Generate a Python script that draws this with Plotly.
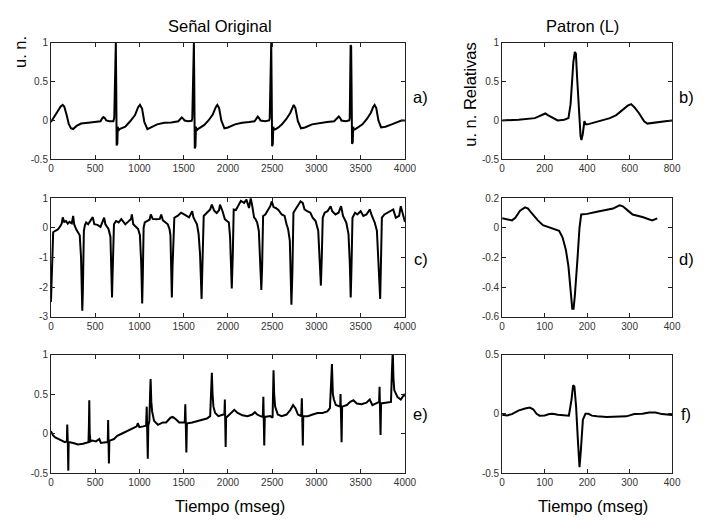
import plotly.graph_objects as go

# ---------------------------------------------------------------
# Señales originales (tiempo en mseg, amplitud en unidades normalizadas)
# ---------------------------------------------------------------
senal_a = [
    (0, -0.02), (30, 0.03), (70, 0.10), (110, 0.18), (133, 0.20), (150, 0.18), (175, 0.08),
    (200, -0.04), (225, -0.10), (250, -0.11), (290, -0.07), (340, -0.04), (420, -0.03),
    (500, -0.02), (560, -0.01), (580, 0.03), (594, 0.045), (610, 0.03), (625, 0.0),
    (660, -0.01), (705, -0.01),
    (715, 0.03), (722, 0.5), (727, 1.0), (733, 1.0), (738, 0.4), (742, -0.32), (746, -0.1),
    (750, -0.3), (755, -0.08), (762, -0.13), (775, -0.11), (800, -0.10), (840, -0.08),
    (895, -0.01), (950, 0.07), (985, 0.17), (1006, 0.20), (1030, 0.15), (1055, -0.02),
    (1090, -0.11), (1130, -0.09), (1200, -0.05), (1280, -0.03), (1360, -0.025), (1440, -0.01),
    (1465, 0.03), (1478, 0.04), (1495, 0.02), (1510, 0.0), (1550, -0.01), (1590, -0.005),
    (1597, 0.03), (1604, 0.5), (1609, 1.0), (1615, 1.0), (1620, 0.4), (1625, -0.36), (1629, -0.1),
    (1633, -0.33), (1638, -0.08), (1645, -0.13), (1660, -0.11), (1690, -0.09), (1730, -0.06),
    (1780, 0.0), (1830, 0.08), (1862, 0.17), (1880, 0.20), (1900, 0.16), (1925, 0.0),
    (1960, -0.10), (2000, -0.09), (2080, -0.05), (2160, -0.03), (2240, -0.02), (2300, -0.01),
    (2325, 0.03), (2337, 0.05), (2352, 0.03), (2368, 0.0), (2420, -0.01), (2465, 0.0),
    (2472, 0.03), (2478, 0.5), (2483, 1.0), (2489, 1.0), (2494, 0.4), (2499, -0.33), (2503, -0.1),
    (2507, -0.3), (2512, -0.08), (2520, -0.12), (2540, -0.11), (2570, -0.09), (2610, -0.05),
    (2660, 0.02), (2705, 0.10), (2728, 0.17), (2743, 0.20), (2762, 0.16), (2790, -0.01),
    (2825, -0.10), (2870, -0.09), (2950, -0.05), (3040, -0.03), (3120, -0.02), (3200, -0.01),
    (3235, 0.03), (3252, 0.05), (3268, 0.03), (3282, 0.0), (3330, -0.01), (3370, 0.0),
    (3376, 0.03), (3382, 0.5), (3386, 0.97), (3392, 0.95), (3397, 0.4), (3402, -0.30), (3406, -0.1),
    (3410, -0.28), (3415, -0.08), (3422, -0.12), (3440, -0.11), (3470, -0.09), (3520, -0.05),
    (3570, 0.02), (3615, 0.10), (3640, 0.17), (3657, 0.20), (3676, 0.16), (3700, 0.0),
    (3730, -0.09), (3780, -0.08), (3850, -0.05), (3920, -0.02), (3960, 0.0), (4000, 0.0),
]

senal_c = [
    (0, -2.5), (8, -1.6), (15, -0.5), (25, -0.15), (50, -0.1), (80, -0.05), (105, 0.05),
    (122, 0.15), (133, 0.35), (150, 0.2), (170, 0.23), (190, 0.14), (210, 0.2), (235, 0.15),
    (251, 0.4), (262, 0.12), (285, -0.05), (306, -0.15), (325, -0.25), (340, -1.0), (348, -2.0),
    (354, -2.8), (360, -2.2), (366, -1.0), (372, -0.1), (385, 0.1), (398, 0.18), (420, 0.12),
    (445, 0.23), (472, 0.36), (490, 0.12), (525, 0.1), (560, 0.03), (590, 0.25), (601, 0.34),
    (615, 0.12), (650, -0.04), (672, -0.3), (682, -1.2), (690, -2.35), (696, -1.6), (705, -0.2),
    (712, 0.12), (735, 0.23), (765, 0.18), (795, 0.29), (840, 0.12), (870, 0.2), (905, 0.3),
    (914, 0.45), (930, 0.12), (985, -0.04), (1005, -0.25), (1020, -1.2), (1031, -2.55),
    (1038, -1.6), (1047, 0.0), (1060, 0.18), (1085, 0.23), (1115, 0.28), (1128, 0.45),
    (1150, 0.3), (1190, 0.29), (1230, 0.3), (1246, 0.45), (1265, 0.25), (1320, 0.12),
    (1340, -0.05), (1350, -0.25), (1358, -1.2), (1366, -2.35), (1374, -1.3), (1385, 0.1),
    (1394, 0.34), (1430, 0.4), (1470, 0.51), (1505, 0.45), (1560, 0.35), (1596, 0.56),
    (1610, 0.35), (1650, 0.12), (1668, -0.2), (1685, -0.9), (1702, -2.4), (1712, -1.2),
    (1720, 0.0), (1726, 0.4), (1762, 0.51), (1799, 0.62), (1818, 0.78), (1844, 0.58),
    (1873, 0.5), (1900, 0.6), (1910, 0.78), (1939, 0.56), (1965, 0.29), (1990, 0.22),
    (2010, 0.18), (2024, -0.32), (2035, -1.64), (2043, -2.05), (2054, -0.98), (2065, 0.62),
    (2090, 0.6), (2120, 0.78), (2146, 0.91), (2183, 0.84), (2209, 0.95), (2238, 0.67),
    (2257, 1.0), (2275, 0.73), (2295, 0.35), (2312, 0.29), (2330, 0.18), (2349, -0.1),
    (2363, -0.98), (2377, -2.1), (2386, -1.31), (2397, 0.4), (2422, 0.45), (2452, 0.62),
    (2478, 0.73), (2496, 0.89), (2515, 0.7), (2540, 0.67), (2570, 0.6), (2607, 0.45),
    (2640, 0.4), (2662, 0.12), (2680, -0.05), (2699, -0.43), (2710, -1.53), (2717, -2.6),
    (2728, -1.5), (2740, 0.51), (2762, 0.62), (2791, 0.78), (2820, 0.89), (2845, 0.84),
    (2865, 0.62), (2895, 0.56), (2931, 0.51), (2957, 0.34), (2990, 0.23), (3020, -0.1),
    (3034, -0.98), (3050, -1.95), (3060, -1.0), (3071, 0.34), (3093, 0.51), (3125, 0.56),
    (3160, 0.73), (3178, 0.56), (3215, 0.45), (3250, 0.51), (3278, 0.73), (3300, 0.4),
    (3337, 0.18), (3362, -0.21), (3377, -1.2), (3387, -2.35), (3396, -1.3), (3407, 0.34),
    (3436, 0.51), (3462, 0.45), (3499, 0.56), (3530, 0.4), (3565, 0.45), (3602, 0.62),
    (3627, 0.4), (3658, 0.18), (3683, -0.1), (3698, -0.98), (3720, -2.4), (3728, -1.3),
    (3739, 0.34), (3768, 0.45), (3805, 0.51), (3840, 0.56), (3868, 0.62), (3897, 0.34),
    (3934, 0.4), (3953, 0.73), (3978, 0.45), (4000, 0.2),
]

senal_e = [
    (0, 0.03), (22, -0.02), (48, -0.05), (85, -0.07), (122, -0.09), (158, -0.11), (180, -0.1),
    (184, 0.115), (190, -0.1), (196, -0.47), (200, -0.11), (214, -0.11), (251, -0.12),
    (306, -0.14), (361, -0.13), (398, -0.12), (424, -0.11), (429, 0.1), (433, 0.42), (438, 0.0),
    (446, -0.1), (465, -0.09), (509, -0.1), (546, -0.07), (564, -0.12), (620, -0.11),
    (642, -0.11), (646, 0.17), (650, -0.1), (655, -0.38), (660, -0.09), (667, -0.09),
    (712, -0.07), (749, -0.03), (804, 0.0), (859, 0.03), (914, 0.07), (970, 0.09),
    (981, 0.13), (999, 0.08), (1043, 0.09), (1075, 0.1), (1082, 0.34), (1088, 0.05),
    (1094, -0.32), (1100, 0.1), (1112, 0.16), (1120, 0.5), (1126, 0.69), (1134, 0.4),
    (1143, 0.28), (1165, 0.16), (1209, 0.11), (1265, 0.14), (1301, 0.14), (1350, 0.2),
    (1375, 0.21), (1412, 0.18), (1449, 0.14), (1512, 0.14), (1518, 0.37), (1524, 0.1),
    (1530, -0.24), (1536, 0.13), (1545, 0.13), (1596, 0.14), (1652, 0.16), (1707, 0.18),
    (1762, 0.19), (1799, 0.22), (1810, 0.45), (1818, 0.77), (1826, 0.5), (1836, 0.34),
    (1855, 0.26), (1892, 0.22), (1947, 0.24), (1960, 0.24), (1965, 0.43), (1970, 0.1),
    (1974, -0.17), (1979, 0.2), (1998, 0.22), (2035, 0.26), (2072, 0.3), (2109, 0.26),
    (2164, 0.23), (2220, 0.22), (2275, 0.24), (2304, 0.27), (2330, 0.24), (2367, 0.22),
    (2394, 0.21), (2400, 0.465), (2405, 0.1), (2410, -0.15), (2416, 0.21), (2478, 0.22),
    (2504, 0.2), (2510, 0.5), (2515, 0.8), (2522, 0.5), (2533, 0.34), (2563, 0.24),
    (2607, 0.22), (2662, 0.24), (2706, 0.3), (2736, 0.36), (2762, 0.32), (2791, 0.24),
    (2828, 0.22), (2835, 0.445), (2840, 0.1), (2846, -0.15), (2851, 0.22), (2902, 0.22),
    (2957, 0.24), (3012, 0.26), (3068, 0.26), (3123, 0.28), (3152, 0.32), (3167, 0.59),
    (3175, 0.88), (3185, 0.5), (3197, 0.43), (3219, 0.36), (3252, 0.34), (3268, 0.34),
    (3272, 0.5), (3278, 0.1), (3284, -0.11), (3290, 0.34), (3344, 0.36), (3381, 0.4),
    (3418, 0.42), (3455, 0.38), (3510, 0.37), (3565, 0.39), (3602, 0.43), (3632, 0.36),
    (3676, 0.38), (3708, 0.4), (3713, 0.59), (3718, 0.2), (3724, -0.02), (3730, 0.38),
    (3787, 0.39), (3842, 0.4), (3853, 0.79), (3862, 1.05), (3870, 0.7), (3879, 0.55),
    (3916, 0.46), (3953, 0.43), (3990, 0.49), (4000, 0.47),
]

# ---------------------------------------------------------------
# Patrones (L) extraídos de cada señal
# ---------------------------------------------------------------
patron_b = [
    (0, 0.0), (77, 0.01), (154, 0.03), (184, 0.07), (203, 0.09), (215, 0.07), (238, 0.03),
    (261, 0.0), (292, 0.01), (312, 0.03), (322, 0.21), (335, 0.75), (342, 0.88), (347, 0.86),
    (353, 0.54), (361, 0.09), (369, -0.2), (373, -0.25), (379, -0.18), (387, -0.01),
    (393, -0.05), (402, -0.05), (415, -0.04), (461, -0.01), (507, 0.03), (537, 0.07),
    (568, 0.14), (591, 0.19), (607, 0.21), (622, 0.17), (645, 0.09), (668, -0.01),
    (683, -0.04), (722, -0.03), (768, -0.01), (800, 0.0),
]

patron_d = [
    (0, 0.064), (11.5, 0.057), (23, 0.05), (31, 0.068), (42, 0.116), (54, 0.138), (61, 0.13),
    (69, 0.10), (84, 0.05), (96, 0.018), (107, 0.007), (123, -0.009), (134, -0.02),
    (142, -0.064), (150, -0.15), (156, -0.26), (161, -0.415), (165, -0.547), (168, -0.547),
    (171, -0.46), (177, -0.22), (182, 0.0), (186, 0.09), (200, 0.094), (223, 0.108),
    (246, 0.119), (261, 0.13), (276, 0.152), (284, 0.145), (296, 0.116), (307, 0.09),
    (330, 0.073), (353, 0.05), (365, 0.064),
]

patron_f = [
    (0, -0.008), (11.5, -0.014), (23, -0.003), (38, 0.027), (54, 0.044), (65, 0.052),
    (73, 0.038), (81, 0.0), (88, -0.016), (100, -0.014), (111, -0.003), (119, 0.0),
    (131, -0.008), (146, -0.016), (157, -0.016), (163, 0.115), (167, 0.24), (170, 0.23),
    (174, 0.06), (178, -0.21), (182, -0.45), (185, -0.32), (190, -0.05), (196, 0.0),
    (203, 0.0), (211, -0.016), (223, -0.022), (246, -0.027), (269, -0.027), (292, -0.022),
    (311, -0.003), (330, 0.0), (346, 0.011), (361, 0.011), (376, -0.003), (400, -0.011),
]

# Marcas de los ejes
ticks_t_largo = [0, 500, 1000, 1500, 2000, 2500, 3000, 3500, 4000]
ticks_t_b = [0, 200, 400, 600, 800]
ticks_t_corto = [0, 100, 200, 300, 400]
ticks_a = [-0.5, 0, 0.5, 1]
ticks_c = [-3, -2, -1, 0, 1]
ticks_d = [-0.6, -0.4, -0.2, 0, 0.2]
ticks_f = [-0.5, 0, 0.5]

W, H = 705, 522
FONT = "Arial, 'Liberation Sans', sans-serif"


def etiquetas(vals):
    return [("%g" % v) for v in vals]


def px(x0, x1):
    return [x0 / W, x1 / W]


def py(y0, y1):
    return [1 - y1 / H, 1 - y0 / H]


col_izq = px(49, 410.7)
col_der = px(510, 683.7)
filas = [py(37.5, 157), py(196.7, 318), py(356.7, 478)]

paneles = [
    # (datos, dominio x, dominio y, rango x, rango y, ticks x, ticks y)
    (senal_a, col_izq, filas[0], [0, 4000], [-0.5, 1], ticks_t_largo, ticks_a),
    (patron_b, col_der, filas[0], [0, 800], [-0.5, 1], ticks_t_b, ticks_a),
    (senal_c, col_izq, filas[1], [0, 4000], [-3, 1], ticks_t_largo, ticks_c),
    (patron_d, col_der, filas[1], [0, 400], [-0.6, 0.2], ticks_t_corto, ticks_d),
    (senal_e, col_izq, filas[2], [0, 4000], [-0.5, 1], ticks_t_largo, ticks_a),
    (patron_f, col_der, filas[2], [0, 400], [-0.5, 0.5], ticks_t_corto, ticks_f),
]

fig = go.Figure()
layout = dict(
    width=W, height=H,
    margin=dict(l=0, r=0, t=0, b=0),
    paper_bgcolor="white", plot_bgcolor="white",
    showlegend=False,
    font=dict(family=FONT, size=10, color="#333333"),
)

for i, (datos, dx, dy, rx, ry, tx, ty) in enumerate(paneles, start=1):
    sx = "" if i == 1 else str(i)
    t = [p[0] for p in datos]
    v = [p[1] for p in datos]
    fig.add_trace(go.Scatter(
        x=t, y=v, mode="lines", xaxis="x" + sx, yaxis="y" + sx,
        line=dict(color="black", width=2), hoverinfo="skip",
    ))
    eje = dict(
        showgrid=False, zeroline=False, showline=True, linecolor="#222222", linewidth=1,
        mirror="ticks", ticks="inside", ticklen=4, tickcolor="#222222", tickwidth=1,
        tickfont=dict(family=FONT, size=10, color="#333333"),
    )
    layout["xaxis" + sx] = dict(eje, domain=dx, range=rx, anchor="y" + sx,
                                tickmode="array", tickvals=tx, ticktext=etiquetas(tx))
    layout["yaxis" + sx] = dict(eje, domain=dy, range=ry, anchor="x" + sx,
                                tickmode="array", tickvals=ty, ticktext=etiquetas(ty))

fig.update_layout(**layout)

textos = [
    ("Señal Original", 222, 20, 0),
    ("Patron (L)", 592, 20, 0),
    ("u. n.", 17.5, 47, -90),
    ("u. n. Relativas", 477, 90, -90),
    ("a)", 427, 93, 0),
    ("b)", 698, 93, 0),
    ("c)", 427, 259, 0),
    ("d)", 698, 259, 0),
    ("e)", 427, 418, 0),
    ("f)", 698, 418, 0),
    ("Tiempo (mseg)", 232, 512, 0),
    ("Tiempo (mseg)", 603, 512, 0),
]
for txt, x, y, ang in textos:
    fig.add_annotation(
        text=txt, x=x / W, y=1 - y / H, xref="paper", yref="paper",
        xanchor="center", yanchor="middle", showarrow=False, textangle=ang,
        font=dict(family=FONT, size=16.5, color="black"),
    )

fig.write_html("out.html")
